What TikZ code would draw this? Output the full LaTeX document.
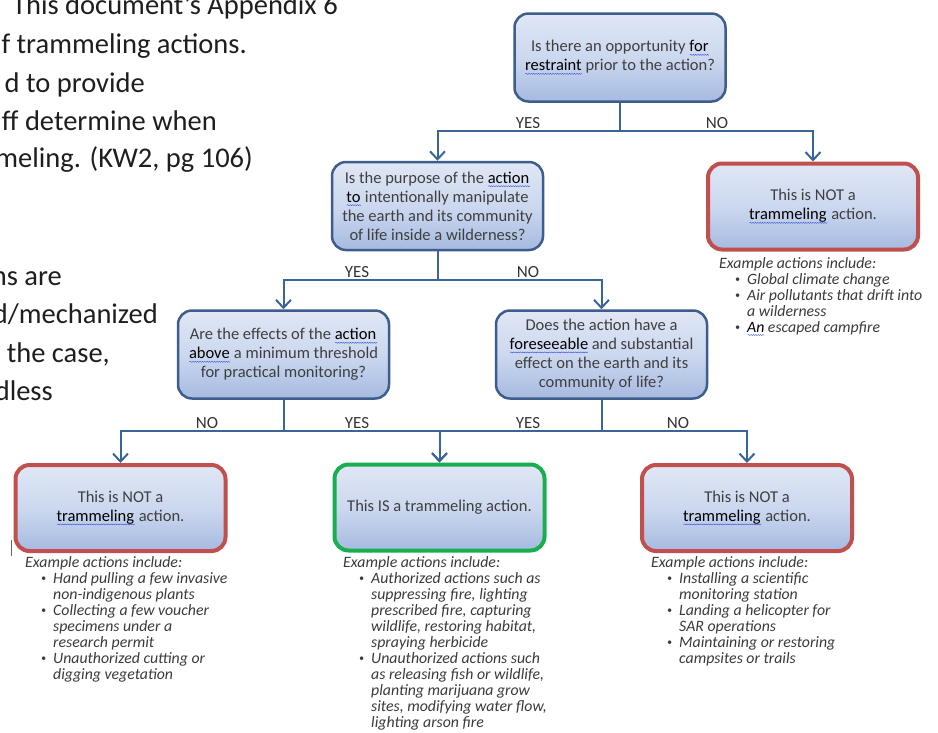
\documentclass[tikz,border=0pt]{standalone}
\usepackage{fontspec}
\setmainfont{Carlito}
\usetikzlibrary{positioning, calc, arrows.meta}

\definecolor{qborder}{HTML}{3D5D8C}
\definecolor{nored}{HTML}{C0504D}
\definecolor{yesgreen}{HTML}{1AAE50}
\definecolor{flowblue}{HTML}{3A6598}
\definecolor{boxtop}{HTML}{E0E7F5}
\definecolor{boxmid}{HTML}{CCD8EF}
\definecolor{boxbot}{HTML}{A6BAE0}
\definecolor{boxtext}{HTML}{3F3F3F}
\definecolor{lbltext}{HTML}{333333}
\definecolor{listtext}{HTML}{3A3A3A}
\definecolor{slidetext}{HTML}{1E1E1E}
\definecolor{squig}{HTML}{3A50E0}

% word with a spell-check wave under it, kept in a box
\newsavebox{\sqtmp}
\newcount\sqk
\newcount\sqn
\newcommand{\mksq}[3]{\newsavebox{#1}\sbox{#1}{#3\sbox{\sqtmp}{#2}%
  \usebox{\sqtmp}\hspace*{-\wd\sqtmp}%
  \begin{pgfpicture}\pgfsetbaseline{0pt}\pgfsetstrokecolor{squig}\pgfsetlinewidth{0.4pt}%
    \sqn=\numexpr\wd\sqtmp/78643\relax
    \sqk=0
    \pgfpathmoveto{\pgfpoint{0pt}{-3pt}}%
    \loop\ifnum\sqk<\sqn \advance\sqk by 1
      \ifodd\sqk \pgfpathlineto{\pgfpoint{\the\sqk*1.2pt}{-2.5pt}}%
      \else \pgfpathlineto{\pgfpoint{\the\sqk*1.2pt}{-3.5pt}}\fi
    \repeat
    \pgfusepath{stroke}\end{pgfpicture}}}
\newcommand{\exitem}[1]{\hspace*{16pt}\makebox[12pt][l]{\raisebox{1.5pt}{\fontsize{10}{10}\selectfont\textbullet}}#1}
\newcommand{\excont}[1]{\hspace*{28pt}#1}

\begin{document}
\mksq{\sqfor}{for}{\fontsize{16.5}{19}\selectfont}%
\mksq{\sqrestraint}{restraint}{\fontsize{16.5}{19}\selectfont}%
\mksq{\sqaction}{action}{\fontsize{16.5}{19}\selectfont}%
\mksq{\sqto}{to}{\fontsize{16.5}{19}\selectfont}%
\mksq{\sqabove}{above}{\fontsize{16.5}{19}\selectfont}%
\mksq{\sqforesee}{foreseeable}{\fontsize{16.5}{19}\selectfont}%
\mksq{\sqtram}{trammeling}{\fontsize{16.5}{19}\selectfont}%
\mksq{\sqan}{An}{\fontsize{15.8}{16}\selectfont\itshape}%
\begin{tikzpicture}[x=1pt, y=-1pt,
  qbox/.style={draw=qborder, line width=2.5pt, rounded corners=14pt,
    top color=boxtop, bottom color=boxbot, middle color=boxmid,
    minimum width=211pt, minimum height=88pt, inner sep=0pt,
    align=center, text=boxtext, font=\fontsize{16.5}{19}\selectfont},
  notbox/.style={qbox, draw=nored, line width=4pt, minimum width=210pt, minimum height=86pt},
  isbox/.style={notbox, draw=yesgreen},
  flow/.style={draw=flowblue, line width=2pt},
  arr/.style={flow, -{Straight Barb[length=8pt, width=15pt]}},
  lbl/.style={anchor=base, inner sep=0pt, text=lbltext, font=\fontsize{17}{17}\selectfont},
  exlist/.style={anchor=base west, inner sep=0pt, align=left, text=listtext,
    font=\fontsize{15.8}{16}\selectfont\itshape},
  slide/.style={anchor=base east, inner sep=0pt, text=slidetext, font=\fontsize{28.5}{34}\selectfont}]

        \useasboundingbox (0,0) rectangle (938,732);

        % Slide text cut off at the left
        \node[slide] (s1) at (338,14) {This document’s Appendix 6};
        \node[slide] (s2) at (247,53) {f trammeling actions.};
        \node[slide] (s3) at (145,92) {d to provide};
        \node[slide] (s4) at (217,130) {ff determine when};
        \node[slide] (s5) at (253,167) {meling. (KW2, pg 106)};
        \node[slide] (s6) at (62,285) {ns are};
        \node[slide] (s7) at (158,323) {d/mechanized};
        \node[slide] (s8) at (110,362) {the case,};
        \node[slide] (s9) at (53,400) {dless};

        % Questions
        \node[qbox] (q1) at (620,57.5) {Is there an opportunity \usebox{\sqfor}\\\usebox{\sqrestraint} prior to the action?};
        \node[qbox] (q2) at (437.5,206) {Is the purpose of the \usebox{\sqaction}\\\usebox{\sqto} intentionally manipulate\\the earth and its community\\of life inside a wilderness?};
        \node[qbox] (q3) at (283.5,354.5) {Are the effects of the \usebox{\sqaction}\\\usebox{\sqabove} a minimum threshold\\for practical monitoring?};
        \node[qbox] (q4) at (601.5,354.5) {Does the action have a\\\usebox{\sqforesee} and substantial\\effect on the earth and its\\community of life?};

        % Answers
        \node[notbox] (r1) at (813,206.5) {This is NOT a\\\usebox{\sqtram} action.};
        \node[notbox] (b1) at (120.5,508) {This is NOT a\\\usebox{\sqtram} action.};
        \node[isbox] (b2) at (439.5,507.5) {This IS a trammeling action.};
        \node[notbox] (b3) at (747,508) {This is NOT a\\\usebox{\sqtram} action.};

        % Branches of question 1
        \coordinate (j1) at (620,131);
        \draw[flow] (q1) -- (j1);
        \draw[arr] (j1) -| (q2);
        \draw[arr] (j1) -| (r1);
        \node[lbl] (y1) at (528,128) {YES};
        \node[lbl] (n1) at (717,128) {NO};

        % Branches of question 2
        \coordinate (j2) at (437.5,280);
        \draw[flow] (q2) -- (j2);
        \draw[arr] (j2) -| (q3);
        \draw[arr] (j2) -| (q4);
        \node[lbl] (y2) at (357,277) {YES};
        \node[lbl] (n2) at (528,277) {NO};

        % Branches of questions 3 and 4
        \coordinate (j3) at (283.5,431);
        \coordinate (j4) at (601.5,431);
        \draw[flow] (q3) -- (j3);
        \draw[flow] (q4) -- (j4);
        \draw[arr] (j3) -| (b1);
        \draw[arr] (j3) -| (b2);
        \draw[arr] (j4) -| (b2);
        \draw[arr] (j4) -| (b3);
        \node[lbl] (n3) at (207,428) {NO};
        \node[lbl] (y3) at (357,428) {YES};
        \node[lbl] (y4) at (528,428) {YES};
        \node[lbl] (n4) at (678,428) {NO};

        % Example lists (placed by the baseline of their last line)
        \node[exlist] (e1) at (719,332) {Example actions include:\\
          \exitem{Global climate change}\\
          \exitem{Air pollutants that drift into}\\
          \excont{a wilderness}\\
          \exitem{\usebox{\sqan} escaped campfire}};
        \node[exlist] (e2) at (25,679) {Example actions include:\\
          \exitem{Hand pulling a few invasive}\\
          \excont{non-indigenous plants}\\
          \exitem{Collecting a few voucher}\\
          \excont{specimens under a}\\
          \excont{research permit}\\
          \exitem{Unauthorized cutting or}\\
          \excont{digging vegetation}};
        \node[exlist] (e3) at (343,727) {Example actions include:\\
          \exitem{Authorized actions such as}\\
          \excont{suppressing fire, lighting}\\
          \excont{prescribed fire, capturing}\\
          \excont{wildlife, restoring habitat,}\\
          \excont{spraying herbicide}\\
          \exitem{Unauthorized actions such}\\
          \excont{as releasing fish or wildlife,}\\
          \excont{planting marijuana grow}\\
          \excont{sites, modifying water flow,}\\
          \excont{lighting arson fire}};
        \node[exlist] (e4) at (651,663) {Example actions include:\\
          \exitem{Installing a scientific}\\
          \excont{monitoring station}\\
          \exitem{Landing a helicopter for}\\
          \excont{SAR operations}\\
          \exitem{Maintaining or restoring}\\
          \excont{campsites or trails}};

        % Text cursor left of the first answer
        \draw[black!60, line width=0.8pt] (11,540) -- (11,556);

\end{tikzpicture}
\end{document}
